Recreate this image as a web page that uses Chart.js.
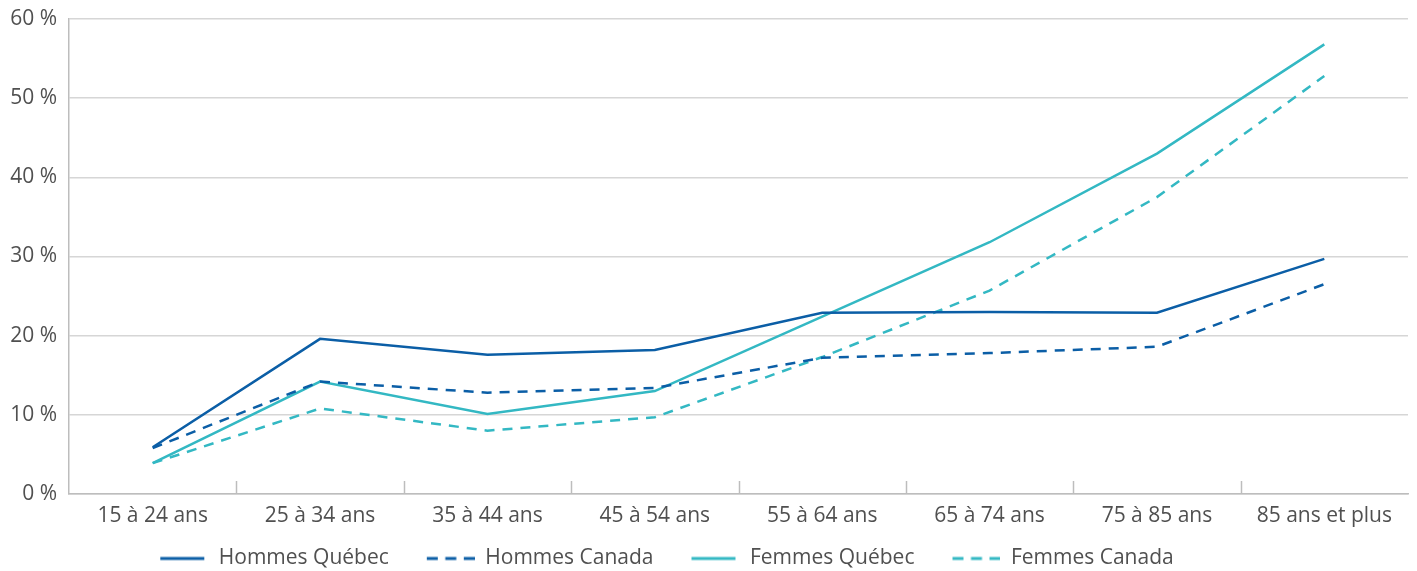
<!DOCTYPE html>
<html>
<head>
<meta charset="utf-8">
<script src="https://cdn.jsdelivr.net/npm/chart.js@4/dist/chart.umd.min.js"></script>
<style>
  html, body { margin: 0; padding: 0; background: #fff; }
  #wrap { width: 1417px; height: 571px; }
</style>
</head>
<body>
<div id="wrap"><canvas id="myChart"></canvas></div>
<script>
const categories = ['15 à 24 ans', '25 à 34 ans', '35 à 44 ans', '45 à 54 ans', '55 à 64 ans', '65 à 74 ans', '75 à 85 ans', '85 ans et plus'];
const hommesQuebec = [5.9, 19.6, 17.6, 18.2, 22.9, 23.0, 22.9, 29.7];
const hommesCanada = [5.8, 14.2, 12.8, 13.4, 17.2, 17.8, 18.6, 26.5];
const femmesQuebec = [3.9, 14.2, 10.1, 13.0, 22.4, 31.8, 43.0, 56.8];
const femmesCanada = [3.9, 10.8, 8.0, 9.7, 17.3, 25.7, 37.5, 52.8];
const yTicks = [0, 10, 20, 30, 40, 50, 60];

const blue = '#0b5ea6';
const teal = '#33b8c3';
const dash = [10, 8];
const textColor = '#505050';

// legend sample: blank lead-in (item spacing) then a short line
const lead = 26;
function legendSample(color, dashed) {
  const c = document.createElement('canvas');
  c.width = lead + 48; c.height = 6;
  const g = c.getContext('2d');
  g.strokeStyle = color;
  g.lineWidth = 3;
  if (dashed) g.setLineDash([11, 7.5]);
  g.beginPath();
  g.moveTo(lead, 3);
  g.lineTo(lead + (dashed ? 48 : 44), 3);
  g.stroke();
  return c;
}

const innerTicks = {
  id: 'innerTicks',
  afterLayout(chart) {
    // legend sits a bit left of centre in the original
    chart.legend.left -= 50;
    chart.legend.right -= 50;
  },
  // small tick marks between categories, pointing up from the axis
  afterDraw(chart) {
    const x = chart.scales.x;
    const ctx = chart.ctx;
    const bottom = chart.chartArea.bottom;
    ctx.save();
    ctx.strokeStyle = '#bdbdbd';
    ctx.lineWidth = 1.5;
    for (let i = 1; i < categories.length; i++) {
      const px = Math.round((x.getPixelForTick(i - 1) + x.getPixelForTick(i)) / 2) + 0.5;
      ctx.beginPath();
      ctx.moveTo(px, bottom);
      ctx.lineTo(px, bottom - 13);
      ctx.stroke();
    }
    ctx.restore();
  }
};

const mk = (label, data, color, dashed) => ({
  label: label,
  data: data,
  borderColor: color,
  backgroundColor: color,
  borderWidth: 2.5,
  borderDash: dashed ? dash : [],
  pointRadius: 0,
  tension: 0,
  fill: false,
  sample: legendSample(color, dashed)
});

const ctx = document.getElementById('myChart');

let chart = new Chart(ctx, {
  type: 'line',
  data: {
    labels: categories,
    datasets: [
      mk('Hommes Québec', hommesQuebec, blue, false),
      mk('Hommes Canada', hommesCanada, blue, true),
      mk('Femmes Québec', femmesQuebec, teal, false),
      mk('Femmes Canada', femmesCanada, teal, true)
    ]
  },
  options: {
    responsive: true,
    maintainAspectRatio: false,
    animation: false,
    layout: { padding: { top: 19, right: 9, left: 0, bottom: -8 } },
    plugins: {
      tooltip: { enabled: false },
      legend: {
        position: 'bottom',
        labels: {
          font: { family: 'Open Sans', size: 21 },
          color: textColor,
          usePointStyle: true,
          pointStyleWidth: lead + 48,
          padding: 12,
          generateLabels: (c) => c.data.datasets.map((d, i) => ({
            text: d.label,
            pointStyle: d.sample,
            fontColor: textColor,
            datasetIndex: i,
            hidden: false,
            lineWidth: 0
          }))
        }
      }
    },
    scales: {
      x: {
        offset: true,
        afterFit: (s) => { s.height = 42; },
        grid: { display: false, offset: true, drawTicks: false },
        border: { display: true, color: '#bdbdbd', width: 1.5 },
        ticks: {
          font: { family: 'Open Sans', size: 21 },
          color: textColor,
          padding: 9,
          maxRotation: 0
        }
      },
      y: {
        min: 0,
        max: 60,
        afterBuildTicks: (s) => { s.ticks = yTicks.map(v => ({ value: v })); },
        afterFit: (s) => { s.width = 69; s.paddingTop = 0; s.paddingBottom = 0; },
        grid: { color: '#d6d6d6', lineWidth: 1.5, drawTicks: false },
        border: { display: true, color: '#bdbdbd', width: 1.5 },
        ticks: {
          font: { family: 'Open Sans', size: 21 },
          color: textColor,
          padding: 12,
          callback: (v) => v + ' %'
        }
      }
    }
  },
  plugins: [innerTicks]
});
</script>
</body>
</html>
